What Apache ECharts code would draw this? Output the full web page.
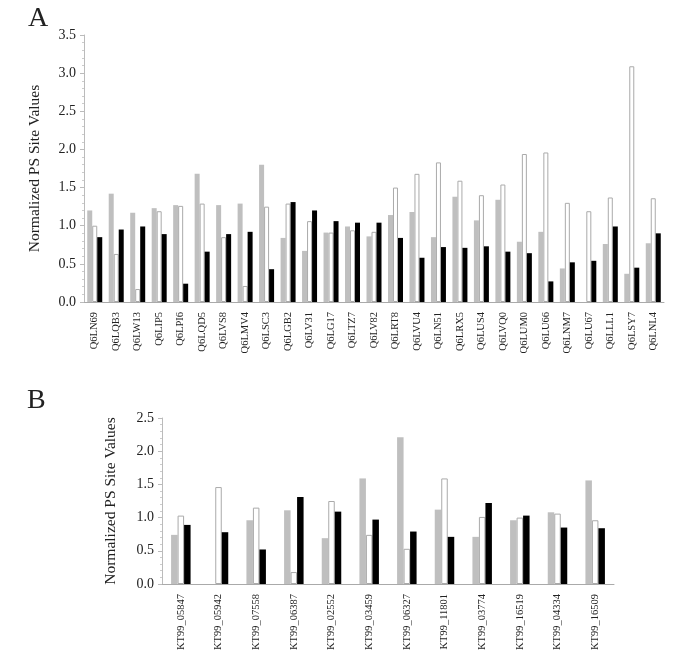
<!DOCTYPE html>
<html>
<head>
<meta charset="utf-8">
<script src="https://cdn.jsdelivr.net/npm/echarts@6/dist/echarts.min.js"></script>
<style>
  html, body { margin: 0; padding: 0; background: #fff; }
</style>
</head>
<body>
<div id="myChart" style="width: 685px; height: 663px;"></div>
<script>
// panel A
var catsA = ['Q6LN69','Q6LQB3','Q6LW13','Q6LIP5','Q6LPI6','Q6LQD5','Q6LVS8','Q6LMV4','Q6LSC3','Q6LGB2','Q6LV31','Q6LG17',
  'Q6LTZ7','Q6LV82','Q6LRT8','Q6LVU4','Q6LN51','Q6LRX5','Q6LUS4','Q6LVQ0','Q6LUM0','Q6LU66','Q6LNM7','Q6LU67','Q6LLL1','Q6LSY7','Q6LNL4'];
var grayA  = [1.20,1.42,1.17,1.23,1.27,1.68,1.27,1.29,1.80,0.84,0.67,0.91,0.99,0.86,1.14,1.18,0.85,1.38,1.07,1.34,0.79,0.92,0.44,0,0.76,0.37,0.77];
var whiteA = [1.00,0.63,0.17,1.19,1.26,1.29,0.85,0.21,1.25,1.29,1.06,0.91,0.94,0.92,1.50,1.68,1.83,1.59,1.40,1.54,1.94,1.96,1.30,1.19,1.37,3.09,1.36];
var blackA = [0.85,0.95,0.99,0.89,0.24,0.66,0.89,0.92,0.43,1.31,1.20,1.06,1.04,1.04,0.84,0.58,0.72,0.71,0.73,0.66,0.64,0.27,0.52,0.54,0.99,0.45,0.90];

// panel B
var catsB = ['KT99_05847','KT99_05942','KT99_07558','KT99_06387','KT99_02552','KT99_03459','KT99_06327','KT99_11801','KT99_03774','KT99_16519','KT99_04334','KT99_16509'];
var grayB  = [0.74,0,0.96,1.11,0.69,1.59,2.21,1.12,0.71,0.96,1.08,1.56];
var whiteB = [1.03,1.46,1.15,0.18,1.25,0.74,0.53,1.59,1.01,1.00,1.06,0.96];
var blackB = [0.89,0.78,0.52,1.31,1.09,0.97,0.79,0.71,1.22,1.03,0.85,0.84];

var serif = "'Liberation Serif', 'Times New Roman', Times, serif";

function xAx(idx, cats) {
  return {
    type: 'category', gridIndex: idx, data: cats,
    axisLine: { lineStyle: { color: '#aaa' } },
    axisTick: { length: 5, lineStyle: { color: '#aaa' } },
    axisLabel: { rotate: 90, margin: 10, fontSize: 10.5, fontFamily: serif, color: '#222', interval: 0 }
  };
}
function yAx(idx, max, gap) {
  return {
    type: 'value', gridIndex: idx, min: 0, max: max, interval: 0.5,
    name: 'Normalized PS Site Values', nameLocation: 'middle', nameGap: gap,
    nameTextStyle: { fontSize: 15.5, fontFamily: serif, color: '#222' },
    axisLine: { show: true, lineStyle: { color: '#bbb' } },
    axisTick: { show: true, length: 4, lineStyle: { color: '#bbb' } },
    minorTick: { show: true, splitNumber: 5, length: 2, lineStyle: { color: '#ccc' } },
    splitLine: { show: false },
    axisLabel: { fontSize: 14, fontFamily: serif, color: '#222', margin: 8,
      formatter: function (v) { return v.toFixed(1); } }
  };
}
function bars(idx, g, w, b, bw) {
  return [
    { type: 'bar', xAxisIndex: idx, yAxisIndex: idx, data: g, barWidth: bw, barGap: '0%',
      itemStyle: { color: '#bfbfbf' } },
    { type: 'bar', xAxisIndex: idx, yAxisIndex: idx, data: w, barWidth: bw, barGap: '0%',
      itemStyle: { color: '#fff', borderColor: '#aaa', borderWidth: 1 } },
    { type: 'bar', xAxisIndex: idx, yAxisIndex: idx, data: b, barWidth: bw, barGap: '0%',
      itemStyle: { color: '#000' } }
  ];
}

var option = {
  animation: false,
  backgroundColor: '#fff',
  title: [
    { text: 'A', left: 23, top: 0, textStyle: { fontSize: 28, fontWeight: 'normal', fontFamily: serif, color: '#222' } },
    { text: 'B', left: 22, top: 382, textStyle: { fontSize: 28, fontWeight: 'normal', fontFamily: serif, color: '#222' } }
  ],
  grid: [
    { left: 84, top: 35, width: 580, height: 267 },
    { left: 162, top: 418, width: 452, height: 166 }
  ],
  xAxis: [xAx(0, catsA), xAx(1, catsB)],
  yAxis: [yAx(0, 3.5, 41), yAx(1, 2.5, 43)],
  series: bars(0, grayA, whiteA, blackA, 5).concat(bars(1, grayB, whiteB, blackB, 6.5))
};

var myChart = echarts.init(document.getElementById('myChart'));
myChart.setOption(option);
</script>
</body>
</html>
